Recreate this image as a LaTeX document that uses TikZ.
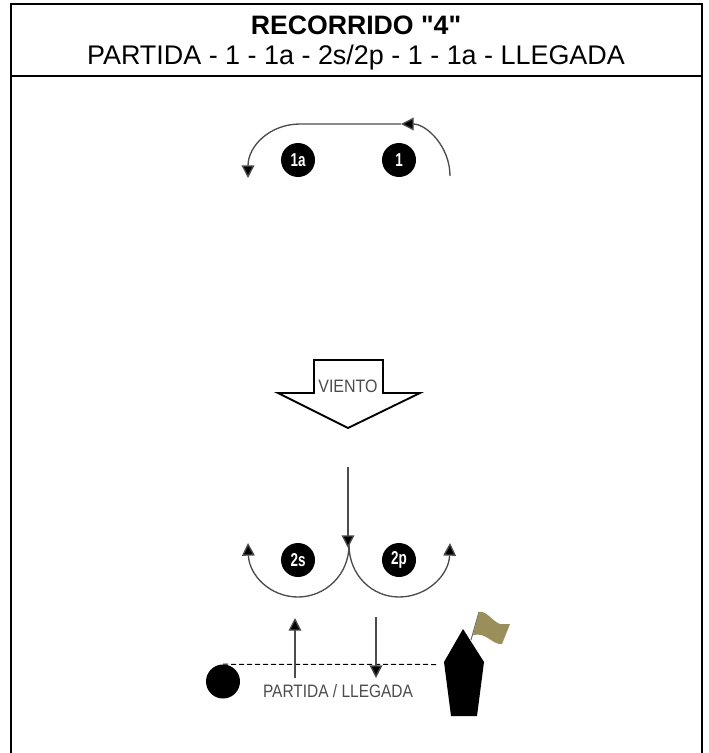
\documentclass[tikz,border=0pt]{standalone}
\usepackage{fontspec}
\setmainfont{Liberation Sans}
\newfontfamily\headfont{Liberation Sans}
\usetikzlibrary{arrows.meta}
\tikzset{
	buoy/.style={circle, fill=black, text=white, minimum size=25.5pt, inner sep=0pt, font=\bfseries\fontsize{14}{14}\selectfont},
	course/.style={draw=black!70, line width=1pt, -{Triangle[length=9.5pt,width=9.5pt,fill=black]}},
	grey label/.style={inner sep=0pt, text=black!70, font=\fontsize{13.5}{13.5}\selectfont}
}
\begin{document}
\begin{tikzpicture}[x=.75pt, y=-.75pt]
	\useasboundingbox (0,0) rectangle (709,753);
	% frame
	\draw[line width=1.5pt] (11,753) -- (11,4) -- (702,4) -- (702,753);
	\draw[line width=1.5pt] (11,75.5) -- (702,75.5);
	% title
	\node (title) at (356,25) {\fontsize{20}{20}\selectfont\headfont\bfseries RECORRIDO "4"};
	\node (route) at (356,58) {\fontsize{20.2}{20.2}\selectfont PARTIDA - 1 - 1a - 2s/2p - 1 - 1a - LLEGADA};
	% buoys
	\node[buoy] (b1a) at (298,160) {\scalebox{.72}[1]{1a}};
	\node[buoy] (b1) at (399,160) {\scalebox{.72}[1]{1}};
	\node[buoy] (b2s) at (298,560) {\scalebox{.72}[1]{2s}};
	\node[buoy] (b2p) at (399,560) {\scalebox{.72}[1]{2p}};
	% top leg
	\coordinate (a) at (450,176);
	\coordinate (b) at (401,124);
	\coordinate (c) at (248,178);
	\draw[course] (a) .. controls (450,146) and (426,124) .. (b);
	\draw[course] (b) -- (300,124) .. controls (270,124) and (248,146) .. (c);
	% wind
	\node[grey label] (wind) at (348,386) {\scalebox{.89}[1]{VIENTO}};
	\draw[line width=1.4pt, line join=miter] (314,360) -- (383,360) -- (383,393) -- (420,393) -- (348,428) -- (278,393) -- (314,393) -- cycle;
	% lower legs
	\coordinate (d) at (348,467);
	\coordinate (e) at (348,548);
	\draw[course] (d) -- (e);
	\coordinate (f) at (349,545);
	\coordinate (g) at (248,543);
	\coordinate (h) at (450,543);
	\draw[course] (f) .. controls (349,575) and (325,597) .. (298,597) .. controls (270,597) and (249,575) .. (g);
	\draw[course] (f) .. controls (349,575) and (372,597) .. (399,597) .. controls (427,597) and (449,575) .. (h);
	% start line
	\node[circle, fill=black, minimum size=25.5pt, inner sep=0pt] (pin) at (223,681.5) {};
	\coordinate (i) at (437,664.5);
	\draw[line width=.75pt, dash pattern=on 3.75pt off 2.25pt] (pin.north) -- (i);
	\coordinate (j) at (295,678);
	\coordinate (k) at (295,618);
	\coordinate (l) at (376,617);
	\coordinate (n) at (376,678);
	\draw[course] (j) -- (k);
	\draw[course] (l) -- (n);
	\node[grey label] (start) at (338,691) {\scalebox{.86}[1]{PARTIDA / LLEGADA}};
	% boat
	\fill (463,629) -- (484,662) -- (477,716) -- (451,716) -- (444,662) -- cycle;
	\draw[black!60, line width=.75pt] (471,640) -- (479,612);
	\fill[fill={rgb,255:red,154;green,143;blue,90}] (479,612) .. controls (486,610) and (492,621) .. (500,624) -- (510,624) -- (502,644) .. controls (492,645) and (487,632) .. (473,635) -- cycle;
\end{tikzpicture}
\end{document}
